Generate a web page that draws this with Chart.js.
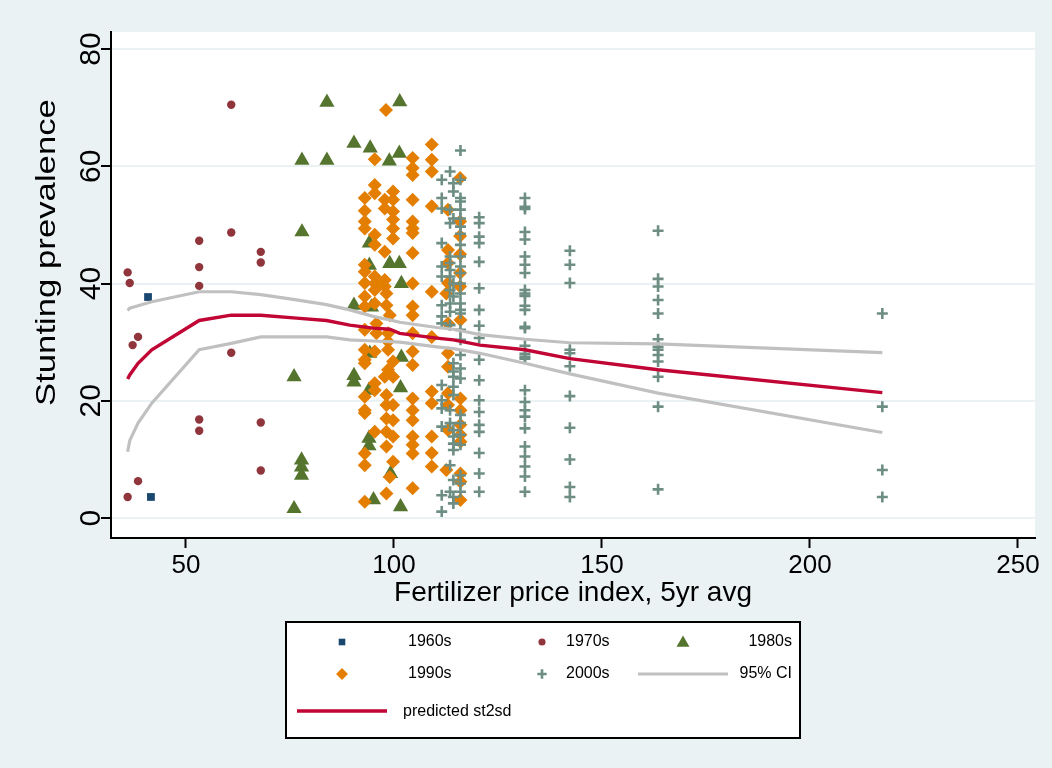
<!DOCTYPE html>
<html>
<head>
<meta charset="utf-8">
<style>
  html, body { margin: 0; padding: 0; background: #EAF2F3; }
  #wrap { width: 1052px; height: 768px; position: relative; }
</style>
<script src="https://cdn.jsdelivr.net/npm/chart.js@4.4.1/dist/chart.umd.min.js"></script>
</head>
<body>
<div id="wrap"><canvas id="chart" width="1052" height="768"></canvas></div>
<script>
// Axis ticks
const xTicks = [50, 100, 150, 200, 250];
const yTicks = [0, 20, 40, 60, 80];

// Observations by decade: fertilizer price index (5yr avg) vs stunting prevalence
const x1960s = [40.9, 41.6];
const y1960s = [37.7, 3.6];

const x1970s = [60.9, 60.9, 53.2, 68.0, 68.0, 53.2, 36.0, 36.5, 53.2, 38.5, 37.2, 60.9, 53.2, 53.2, 68.0, 68.0, 38.5, 36.0];
const y1970s = [70.5, 48.7, 47.3, 45.4, 43.6, 42.8, 41.9, 40.1, 39.6, 30.9, 29.5, 28.2, 16.8, 14.9, 16.3, 8.1, 6.3, 3.6];

const x1980s = [83.9, 101.4, 77.9, 83.9, 90.4, 94.3, 101.3, 98.9, 77.9, 94.1, 94.1, 99.0, 101.3, 101.8, 90.4, 94.6,
                94.2, 101.8, 90.4, 90.4, 94.0, 101.6, 94.0, 94.0, 99.2, 95.1, 101.6, 76.0, 77.8, 77.8, 77.8, 76.0];
const y1980s = [70.9, 71.0, 61.0, 61.0, 63.9, 63.1, 62.2, 60.9, 48.8, 46.9, 43.1, 43.4, 43.4, 40.0, 36.3, 36.0,
                28.1, 27.4, 24.3, 23.2, 21.8, 22.2, 13.6, 12.3, 7.6, 3.1, 1.9, 24.1, 9.9, 8.7, 7.3, 1.6];

const x1990s = [98.1, 109.1, 95.4, 104.5, 104.5, 104.5, 109.1, 109.1, 115.9, 95.4, 95.4, 93.0, 99.8, 99.8, 97.8, 97.8,
                104.5, 109.1, 93.0, 93.0, 93.0, 99.8, 99.8, 99.8, 99.8, 104.5, 104.5, 104.5, 95.4, 95.4, 97.8, 104.5,
                113.0, 115.9, 115.9, 115.9, 115.9, 115.9, 113.0, 113.0, 113.0, 93.0, 93.0, 93.0, 95.4, 95.4, 95.4, 97.8,
                97.8, 98.2, 104.5, 109.1, 112.6, 93.0, 93.0, 95.4, 98.2, 99.0, 104.5, 104.5, 116.0, 113.0, 93.0, 95.8,
                95.8, 98.6, 98.6, 104.5, 104.5, 104.5, 109.1, 113.0, 113.0, 93.0, 93.0, 93.0, 95.4, 98.6, 99.8, 98.6,
                97.8, 99.8, 95.4, 95.4, 93.0, 93.0, 93.0, 98.2, 98.2, 99.8, 98.2, 99.8, 104.5, 104.5, 104.5, 109.1,
                109.1, 113.0, 113.0, 116.0, 116.0, 116.0, 116.0, 116.0, 95.4, 98.2, 99.8, 98.2, 104.5, 104.5, 104.5, 109.1,
                109.1, 109.1, 93.0, 93.0, 99.8, 99.0, 98.2, 104.5, 93.0, 112.6, 116.0, 116.0, 116.0, 113.0];
const y1990s = [69.6, 63.7, 61.2, 61.4, 59.7, 58.5, 61.1, 59.1, 58.0, 56.8, 55.4, 54.6, 55.7, 54.3, 54.3, 52.8,
                54.3, 53.2, 52.4, 50.6, 49.4, 52.3, 50.9, 49.4, 47.7, 50.6, 49.4, 48.6, 48.3, 46.6, 45.4, 45.2,
                52.6, 50.6, 48.1, 45.0, 41.8, 39.5, 45.7, 43.5, 40.1, 43.2, 42.0, 40.1, 41.2, 40.0, 38.9, 40.6,
                39.5, 38.3, 40.0, 38.6, 38.3, 37.8, 36.1, 36.6, 36.3, 34.6, 36.1, 34.6, 33.8, 33.2, 32.1, 33.2,
                31.5, 31.5, 30.1, 31.5, 28.4, 26.1, 30.9, 28.1, 25.8, 28.7, 27.0, 26.4, 28.4, 28.7, 26.7, 25.3,
                24.1, 24.1, 23.0, 21.8, 20.7, 18.4, 17.9, 21.0, 19.3, 19.3, 17.0, 16.7, 20.4, 18.4, 16.7, 21.6,
                19.6, 21.3, 19.3, 20.4, 18.4, 15.9, 14.2, 13.0, 14.7, 14.7, 13.9, 12.2, 13.9, 12.5, 11.0, 13.9,
                11.1, 8.8, 11.0, 9.0, 9.6, 7.0, 4.2, 5.1, 2.8, 8.2, 7.6, 6.2, 3.1, 15.0];

const x2000s = [111.5, 111.5, 111.5, 111.5, 111.5, 111.5, 111.5, 111.5, 111.5, 111.5, 111.5, 111.5, 111.5, 111.5, 111.5,
                113.5, 113.5, 113.5, 113.5, 113.5, 113.5, 113.5, 113.5, 113.5, 113.5, 113.5, 113.5, 113.5, 113.5, 113.5,
                114.3, 114.3, 114.3, 114.3, 114.3, 114.3, 114.3, 114.3, 114.3, 114.3, 114.3, 114.3, 114.3, 114.3, 114.3, 114.3, 114.3,
                116.0, 116.0, 116.0, 116.0, 116.0, 116.0, 116.0, 116.0, 116.0, 116.0, 116.0, 116.0, 116.0, 116.0, 116.0,
                116.0, 116.0, 116.0, 116.0, 116.0, 116.0, 116.0, 116.0, 116.0, 116.0, 116.0, 116.0, 116.0, 116.0,
                120.5, 120.5, 120.5, 120.5, 120.5, 120.5, 120.5, 120.5, 120.5, 120.5, 120.5, 120.5, 120.5, 120.5, 120.5, 120.5, 120.5, 120.5,
                131.5, 131.5, 131.5, 131.5, 131.5, 131.5, 131.5, 131.5, 131.5, 131.5, 131.5, 131.5, 131.5, 131.5, 131.5,
                131.5, 131.5, 131.5, 131.5, 131.5, 131.5, 131.5, 131.5, 131.5, 131.5, 131.5, 131.5, 131.5, 131.5,
                142.3, 142.3, 142.3, 142.3, 142.3, 142.3, 142.3, 142.3, 142.3, 142.3, 142.3,
                163.5, 163.5, 163.5, 163.5, 163.5, 163.5, 163.5, 163.5, 163.5, 163.5, 163.5, 163.5, 163.5,
                217.4, 217.4, 217.4, 217.4];
const y2000s = [57.7, 54.6, 52.8, 46.9, 42.9, 41.2, 36.3, 34.4, 33.2, 22.7, 20.1, 18.7, 15.6, 3.9, 1.1,
                59.1, 52.6, 50.3, 44.6, 43.5, 42.3, 41.2, 38.9, 36.6, 35.2, 32.9, 18.4, 16.2, 9.0, 4.5,
                57.1, 55.7, 51.1, 40.0, 37.8, 26.4, 25.0, 24.1, 22.4, 21.0, 15.0, 13.9, 12.7, 11.6, 6.5, 3.6, 2.5,
                62.7, 57.7, 54.6, 54.0, 52.6, 51.1, 49.7, 48.5, 46.6, 44.6, 42.9, 41.8, 40.0, 38.3, 36.6,
                35.5, 34.9, 32.1, 30.4, 27.8, 25.5, 23.8, 17.6, 16.2, 14.2, 12.5, 7.3, 5.9, 4.5,
                51.3, 50.3, 48.0, 46.9, 43.7, 39.2, 35.5, 32.8, 30.7, 27.0, 23.5, 20.1, 18.1, 15.9, 14.7, 11.1, 7.6, 4.5,
                54.6, 53.1, 52.7, 48.8, 47.5, 44.6, 43.2, 41.8, 38.9, 38.3, 37.9, 36.2, 35.5, 32.6, 32.4,
                29.4, 28.0, 27.5, 27.2, 21.8, 19.8, 18.4, 17.3, 15.3, 12.2, 10.5, 8.8, 7.1, 4.5,
                45.6, 43.2, 40.1, 28.7, 28.1, 25.9, 20.8, 15.4, 10.0, 5.3, 3.6,
                49.0, 40.8, 39.5, 37.2, 34.9, 30.5, 29.2, 28.7, 27.8, 26.7, 24.1, 19.0, 4.9,
                34.9, 19.0, 8.2, 3.6];

// Fitted curve with its 95% confidence band
const fitX   = [36.0, 36.5, 38.5, 41.8, 53.2, 60.9, 68.0, 76.6, 83.8, 89.4, 95.0, 99.0, 101.4, 110.3, 114.3, 120.7, 131.5, 142.3, 163.5, 217.4];
const fitY   = [23.7, 24.4, 26.4, 28.7, 33.7, 34.6, 34.6, 34.1, 33.7, 32.9, 32.4, 32.2, 31.5, 30.7, 30.4, 29.5, 28.7, 27.2, 25.3, 21.4];
const ciHigh = [35.4, 35.8, 36.2, 36.9, 38.6, 38.6, 38.1, 37.2, 36.4, 35.5, 34.4, 33.8, 33.4, 32.5, 32.2, 31.3, 30.5, 29.9, 29.7, 28.2];
const ciLow  = [11.3, 13.2, 16.2, 19.6, 28.7, 29.8, 30.9, 30.9, 30.9, 30.4, 30.2, 30.1, 30.0, 29.2, 28.9, 28.1, 26.4, 24.6, 21.3, 14.6];

const yTitle = 'Stunting prevalence';
const xTitle = 'Fertilizer price index, 5yr avg';

const pts = (xs, ys) => xs.map((x, i) => ({ x, y: ys[i] }));

const FONT = "'Liberation Sans', Arial, Helvetica, sans-serif";
const BG = '#EAF2F3';

const series = [
  { label: '1960s', data: pts(x1960s, y1960s), pointStyle: 'rect',    pointRadius: 5.5, backgroundColor: '#1A476F', borderColor: '#1A476F', borderWidth: 0, order: 6 },
  { label: '1970s', data: pts(x1970s, y1970s), pointStyle: 'circle',  pointRadius: 4.2, backgroundColor: '#90353B', borderColor: '#90353B', borderWidth: 0, order: 5 },
  { label: '1980s', data: pts(x1980s, y1980s), pointStyle: 'triangle',pointRadius: 8.8, backgroundColor: '#55752F', borderColor: '#55752F', borderWidth: 0, order: 4 },
  { label: '1990s', data: pts(x1990s, y1990s), pointStyle: 'rectRot', pointRadius: 7,   backgroundColor: '#E37E00', borderColor: '#E37E00', borderWidth: 0, order: 3 },
  { label: '2000s', data: pts(x2000s, y2000s), pointStyle: 'cross',   pointRadius: 5.5, backgroundColor: '#6E8E84', borderColor: '#6E8E84', borderWidth: 2.6, order: 2 }
];
const lines = [
  { label: '95% CI', data: pts(fitX, ciHigh), showLine: true, pointRadius: 0, borderColor: '#C0C0C0', borderWidth: 3.2, tension: 0, order: 1 },
  { label: '95% CI low', data: pts(fitX, ciLow), showLine: true, pointRadius: 0, borderColor: '#C0C0C0', borderWidth: 3.2, tension: 0, order: 1 },
  { label: 'predicted st2sd', data: pts(fitX, fitY), showLine: true, pointRadius: 0, borderColor: '#C10534', borderWidth: 3.4, tension: 0, order: 0 }
];

// Region backgrounds: light graph region, white plot region
const backgroundPlugin = {
  id: 'regions',
  beforeDraw(chart) {
    const { ctx, chartArea: a } = chart;
    ctx.save();
    ctx.fillStyle = BG;
    ctx.fillRect(0, 0, chart.width, chart.height);
    ctx.fillStyle = '#FFFFFF';
    ctx.fillRect(a.left, a.top, a.right - a.left, a.bottom - a.top);
    ctx.restore();
  }
};

// Vertical axis title, set bottom-up and slightly stretched along its run
const yTitlePlugin = {
  id: 'yTitle',
  afterDraw(chart) {
    const { ctx } = chart;
    ctx.save();
    ctx.translate(47, 406);
    ctx.rotate(-Math.PI / 2);
    ctx.scale(1.24, 1);
    ctx.fillStyle = '#000000';
    ctx.font = '28px ' + FONT;
    ctx.textAlign = 'left';
    ctx.textBaseline = 'middle';
    ctx.fillText(yTitle, 0, 0);
    ctx.restore();
  }
};

// Boxed three-column legend below the plot
const legendPlugin = {
  id: 'boxLegend',
  afterDraw(chart) {
    const { ctx } = chart;
    const ds = chart.data.datasets;
    const byLabel = l => ds.find(d => d.label === l);
    ctx.save();
    ctx.fillStyle = '#FFFFFF';
    ctx.fillRect(286, 622, 514, 116);
    ctx.strokeStyle = '#000000';
    ctx.lineWidth = 2;
    ctx.strokeRect(286, 622, 514, 116);

    const marker = (d, x, y) => {
      ctx.fillStyle = d.backgroundColor;
      ctx.strokeStyle = d.borderColor;
      ctx.lineWidth = d.borderWidth;
      Chart.helpers.drawPoint(ctx, { pointStyle: d.pointStyle, radius: d.pointRadius * 0.85, rotation: 0, borderWidth: d.borderWidth }, x, y);
    };
    const swatch = (d, x0, x1, y) => {
      ctx.strokeStyle = d.borderColor;
      ctx.lineWidth = d.borderWidth;
      ctx.beginPath(); ctx.moveTo(x0, y); ctx.lineTo(x1, y); ctx.stroke();
    };
    const text = (s, x, y, align) => {
      ctx.fillStyle = '#000000';
      ctx.font = '16px ' + FONT;
      ctx.textAlign = align || 'left';
      ctx.textBaseline = 'middle';
      ctx.fillText(s, x, y);
    };

    const r1 = 642, r2 = 674, r3 = 711;
    marker(byLabel('1960s'), 342, r1); text('1960s', 408, r1);
    marker(byLabel('1970s'), 542, r1); text('1970s', 566, r1);
    marker(byLabel('1980s'), 683, r1 + 1); text('1980s', 792, r1, 'right');
    marker(byLabel('1990s'), 342, r2); text('1990s', 408, r2);
    marker(byLabel('2000s'), 542, r2); text('2000s', 566, r2);
    swatch(byLabel('95% CI'), 638, 728, r2); text('95% CI', 792, r2, 'right');
    swatch(byLabel('predicted st2sd'), 297, 387, r3); text('predicted st2sd', 403, r3 + 1);
    ctx.restore();
  }
};

new Chart(document.getElementById('chart'), {
  type: 'scatter',
  data: { datasets: [...series, ...lines] },
  options: {
    responsive: false,
    devicePixelRatio: 1,
    animation: false,
    layout: { padding: { left: 0, right: 17, top: 32, bottom: 158 } },
    plugins: { legend: { display: false }, tooltip: { enabled: false } },
    scales: {
      x: {
        type: 'linear',
        min: 32, max: 254.1,
        afterBuildTicks: s => { s.ticks = xTicks.map(v => ({ value: v })); },
        afterFit: s => { s.height = 72; },
        ticks: { font: { family: FONT, size: 26 }, color: '#000', padding: 2, maxRotation: 0, autoSkip: false },
        grid: { drawOnChartArea: false, drawTicks: true, tickLength: 10, tickColor: '#000', tickWidth: 2 },
        border: { display: true, color: '#000', width: 2 },
        title: { display: true, text: xTitle, color: '#000', font: { family: FONT, size: 28 }, padding: { top: 0, bottom: 0 } }
      },
      y: {
        type: 'linear',
        min: -3.4, max: 82.9,
        afterBuildTicks: s => { s.ticks = yTicks.map(v => ({ value: v })); },
        afterFit: s => { s.width = 111; },
        ticks: { font: { family: FONT, size: 30 }, color: '#000', padding: -7, minRotation: 90, maxRotation: 90, crossAlign: 'center', autoSkip: false },
        grid: { color: BG, lineWidth: 2, drawTicks: true, tickLength: 10, tickColor: '#000', tickWidth: 2 },
        border: { display: true, color: '#000', width: 2 },
        title: { display: false }
      }
    }
  },
  plugins: [backgroundPlugin, yTitlePlugin, legendPlugin]
});
</script>
</body>
</html>
